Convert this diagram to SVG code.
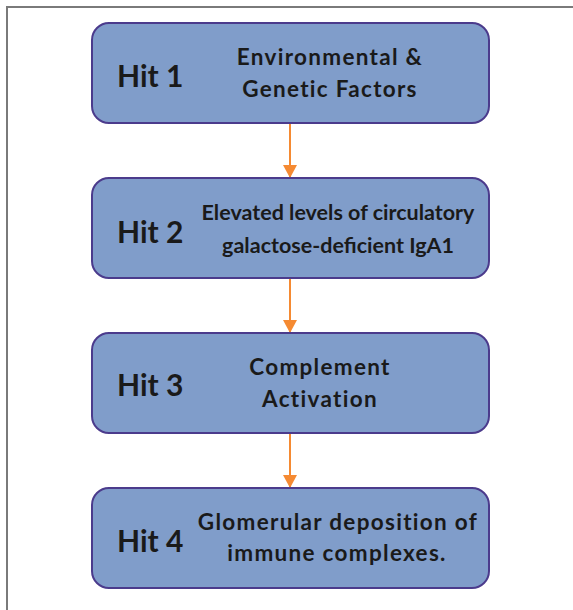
<svg xmlns="http://www.w3.org/2000/svg" width="573" height="610" viewBox="0 0 573 610">
<defs>
<style>
.box{fill:#809dca;stroke:#4b3b8c;stroke-width:2}
.hit{font-family:Lato,"Open Sans","Liberation Sans",sans-serif;font-weight:700;font-size:30px;fill:#1a1a1a}
.desc{font-family:Lato,"Open Sans","Liberation Sans",sans-serif;font-weight:700;font-size:21.5px;fill:#1a1a1a;text-anchor:middle}
.wide{font-size:22.5px;letter-spacing:1.3px}
.conn{stroke:#f58a32;stroke-width:2;fill:none}
</style>
<marker id="ah" viewBox="0 0 13 14" refX="13" refY="7" markerWidth="13" markerHeight="14" markerUnits="userSpaceOnUse" orient="auto">
<path d="M0,0 L13,7 L0,14 Z" fill="#f58a32"/>
</marker>
</defs>
<rect x="0" y="0" width="573" height="610" fill="#ffffff"/>
<rect x="7" y="7" width="620" height="640" fill="none" stroke="#7a7a7a" stroke-width="2"/>
<g id="connectors">
<line class="conn" x1="290" y1="124" x2="290" y2="178" marker-end="url(#ah)"/>
<line class="conn" x1="290" y1="279" x2="290" y2="333" marker-end="url(#ah)"/>
<line class="conn" x1="290" y1="434" x2="290" y2="488" marker-end="url(#ah)"/>
</g>
<g id="hit1">
<rect class="box" x="92" y="23" width="397" height="100" rx="17"/>
<text class="hit" x="117" y="87">Hit 1</text>
<text class="desc wide" x="330" y="65">Environmental &amp;</text>
<text class="desc wide" x="330" y="97">Genetic Factors</text>
</g>
<g id="hit2">
<rect class="box" x="92" y="178" width="397" height="100" rx="17"/>
<text class="hit" x="117" y="243">Hit 2</text>
<text class="desc" x="338" y="220">Elevated levels of circulatory</text>
<text class="desc" x="338" y="253">galactose-deficient IgA1</text>
</g>
<g id="hit3">
<rect class="box" x="92" y="333" width="397" height="100" rx="17"/>
<text class="hit" x="117" y="396">Hit 3</text>
<text class="desc wide" x="320" y="375">Complement</text>
<text class="desc wide" x="320" y="407">Activation</text>
</g>
<g id="hit4">
<rect class="box" x="92" y="488" width="397" height="100" rx="17"/>
<text class="hit" x="117" y="552">Hit 4</text>
<text class="desc wide" x="338" y="530">Glomerular deposition of</text>
<text class="desc wide" x="337" y="561">immune complexes.</text>
</g>
</svg>
